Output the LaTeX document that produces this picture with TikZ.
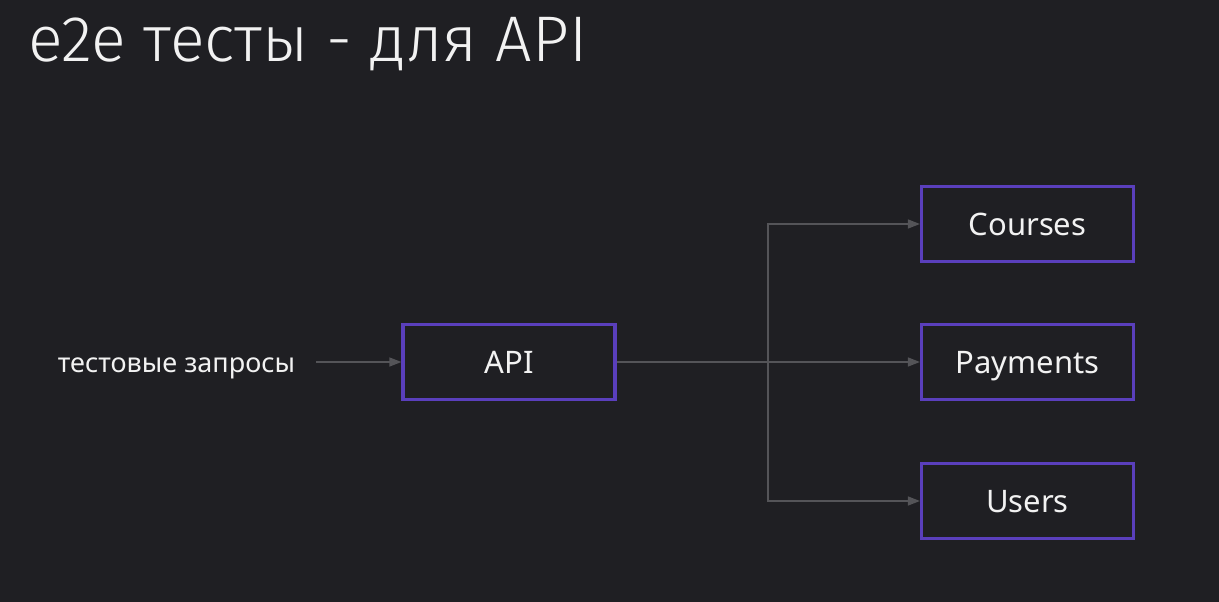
\documentclass[tikz,border=0pt]{standalone}
\usepackage{fontspec}
\setmainfont{Noto Sans}
\newfontfamily\titlefont{Fira Sans Light}
\usetikzlibrary{arrows.meta}
\definecolor{bg}{HTML}{1F1F23}
\definecolor{boxborder}{HTML}{5A3FBC}
\definecolor{conn}{HTML}{545458}
\definecolor{txt}{HTML}{F2F2F2}
\begin{document}
\begin{tikzpicture}[x=1pt,y=-1pt,
  svcbox/.style={draw=boxborder,line width=3.2pt,fill=bg,minimum width=212pt,minimum height=75pt,inner sep=0pt,text height=28pt,text depth=6pt,text=txt,font=\fontsize{31}{36}\selectfont},
  conline/.style={draw=conn,line width=1.3pt,-{Triangle[length=12pt,width=9pt]}}]
\fill[bg] (0,0) rectangle (1219,602);
\useasboundingbox (0,0) rectangle (1219,602);
\node[anchor=west,text=txt,font=\titlefont\fontsize{64.5}{70}\selectfont,inner sep=0pt] (title) at (28,44) {e2e тесты - для API};
\node[anchor=base,text=txt,font=\fontsize{27}{30}\selectfont,inner sep=0pt] (lbl) at (176.5,372) {тестовые запросы};
\node[svcbox] (api) at (509,362) {API};
\node[svcbox] (courses) at (1027.5,224) {Courses};
\node[svcbox] (pay) at (1027.5,362) {Payments};
\node[svcbox] (users) at (1027.5,501) {Users};
\coordinate (s) at (316,362);
\coordinate (j) at (768,362);
\draw[conline] (s) -- (api.west);
\draw[conline] (api.east) -- (pay.west);
\draw[conline] (j) |- (courses.west);
\draw[conline] (j) |- (users.west);
\end{tikzpicture}
\end{document}
